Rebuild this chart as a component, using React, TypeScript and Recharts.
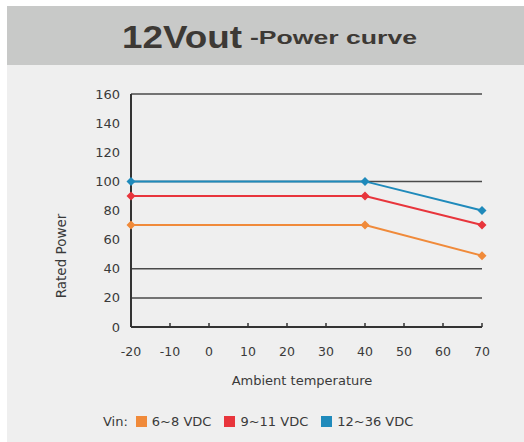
import { LineChart, Line, XAxis, YAxis, CartesianGrid, Legend, Label } from "recharts";

const temps = [-20, 40, 70];
const vin6to8 = [70, 70, 49];
const vin9to11 = [90, 90, 70];
const vin12to36 = [100, 100, 80];
const seriesNames = ["6~8 VDC", "9~11 VDC", "12~36 VDC"];
const seriesColors = ["#f08a3a", "#e8353c", "#1f8abb"];
const xTicks = [-20, -10, 0, 10, 20, 30, 40, 50, 60, 70];
const yTicks = [0, 20, 40, 60, 80, 100, 120, 140, 160];
const gridValues = [20, 40, 100, 160];

const data = temps.map((t, i) => ({
  temp: t,
  a: vin6to8[i],
  b: vin9to11[i],
  c: vin12to36[i],
}));

const font = "'DejaVu Sans', sans-serif";
const textColor = "#3a3a3a";

const diamond = (color: string) => (props: any) => {
  const { cx, cy, index } = props;
  const r = 4.5;
  return (
    <path
      key={index}
      d={`M${cx},${cy - r}L${cx + r},${cy}L${cx},${cy + r}L${cx - r},${cy}Z`}
      fill={color}
    />
  );
};

// keep legend in series order (recharts sorts by value otherwise)
const LegendContent = (props: any) => {
  const payload = [...(props.payload || [])].sort(
    (p: any, q: any) => seriesNames.indexOf(p.value) - seriesNames.indexOf(q.value)
  );
  return (
    <div style={{ display: "flex", alignItems: "center", fontFamily: font, fontSize: 13, color: textColor, whiteSpace: "nowrap" }}>
      <span style={{ marginRight: 8 }}>Vin:</span>
      {payload.map((p: any) => (
        <span key={p.value} style={{ display: "flex", alignItems: "center", marginRight: 13 }}>
          <span style={{ display: "inline-block", width: 11, height: 11, background: p.color, marginRight: 5 }} />
          {p.value}
        </span>
      ))}
    </div>
  );
};

export default function App() {
  return (
    <div style={{ position: "absolute", left: 0, top: 0, width: 524, height: 442, background: "#fff", overflow: "hidden" }}>
      <div style={{ position: "absolute", left: 7, top: 6, width: 517, height: 59, background: "#c8c9c8" }} />
      <div style={{ position: "absolute", left: 7, top: 65, width: 517, height: 377, background: "#efefef" }} />
      <svg style={{ position: "absolute", left: 0, top: 0 }} width={524} height={65}>
        <text x={122} y={48} fontFamily="'Liberation Sans', Arial, sans-serif" fontWeight="bold" fontSize={32} fill="#3d3935" textLength={120} lengthAdjust="spacingAndGlyphs">
          12Vout
        </text>
        <text x={250} y={43.5} fontFamily="'Liberation Sans', Arial, sans-serif" fontWeight="bold" fontSize={18.5} fill="#3d3935" textLength={167} lengthAdjust="spacingAndGlyphs">
          -Power curve
        </text>
      </svg>
      <div style={{ position: "absolute", left: 0, top: 0 }}>
        <LineChart width={524} height={442} data={data} margin={{ top: 94, right: 42, bottom: 55, left: 56 }}>
          <CartesianGrid horizontalValues={gridValues} vertical={false} stroke="#4a4a4a" strokeWidth={1.5} />
          <XAxis
            dataKey="temp"
            type="number"
            domain={[-20, 70]}
            ticks={xTicks}
            height={60}
            axisLine={{ stroke: "#333", strokeWidth: 2 }}
            tickLine={{ stroke: "#333", strokeWidth: 1.5 }}
            tickSize={-4}
            tickMargin={24}
            tick={{ fill: textColor, fontSize: 12.5, fontFamily: font }}
          >
            <Label
              content={() => (
                <text x={302} y={385} textAnchor="middle" fontFamily={font} fontSize={13} fill={textColor}>
                  Ambient temperature
                </text>
              )}
            />
          </XAxis>
          <YAxis
            type="number"
            domain={[0, 160]}
            ticks={yTicks}
            width={75}
            axisLine={{ stroke: "#333", strokeWidth: 2 }}
            tickLine={false}
            tickSize={0}
            tickMargin={11}
            tick={{ fill: textColor, fontSize: 13, fontFamily: font }}
          >
            <Label
              content={() => (
                <text x={66} y={256} transform="rotate(-90 66 256)" textAnchor="middle" fontFamily={font} fontSize={13.5} fill={textColor}>
                  Rated Power
                </text>
              )}
            />
          </YAxis>
          <Legend
            layout="horizontal"
            verticalAlign="middle"
            align="center"
            content={<LegendContent />}
            wrapperStyle={{ position: "absolute", left: 103, top: 414, width: "auto", height: "auto" }}
          />
          <Line name={seriesNames[0]} dataKey="a" stroke={seriesColors[0]} strokeWidth={2} dot={diamond(seriesColors[0])} isAnimationActive={false} />
          <Line name={seriesNames[1]} dataKey="b" stroke={seriesColors[1]} strokeWidth={2} dot={diamond(seriesColors[1])} isAnimationActive={false} />
          <Line name={seriesNames[2]} dataKey="c" stroke={seriesColors[2]} strokeWidth={2} dot={diamond(seriesColors[2])} isAnimationActive={false} />
        </LineChart>
      </div>
    </div>
  );
}
